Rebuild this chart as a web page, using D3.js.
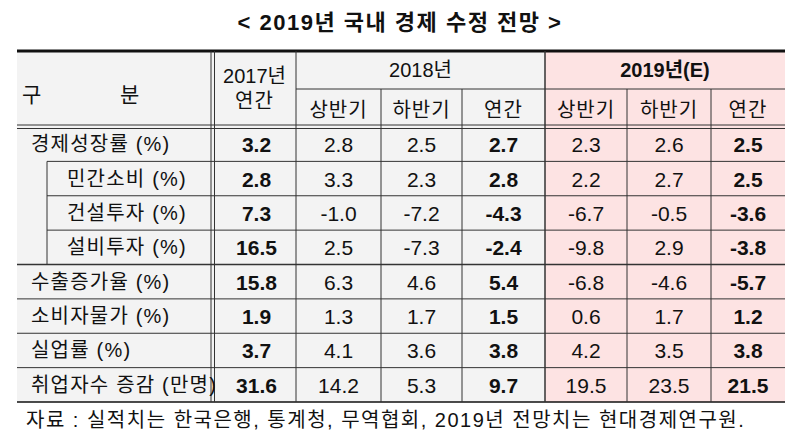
<!DOCTYPE html><html><head><meta charset="utf-8"><script src="https://cdn.jsdelivr.net/npm/d3@7"></script>
<style>body{margin:0;background:#fff}text{font-family:"Liberation Sans","Noto Sans CJK KR",sans-serif;fill:#111}</style></head><body><svg id="c" width="800" height="440"></svg>
<script>
const title="< 2019년 국내 경제 수정 전망 >";
const rowLabels=["경제성장률 (%)","민간소비 (%)","건설투자 (%)","설비투자 (%)","수출증가율 (%)","소비자물가 (%)","실업률 (%)","취업자수 증감 (만명)"];
const subRow=[false,true,true,true,false,false,false,false];
const y2017=[3.2,2.8,7.3,16.5,15.8,1.9,3.7,31.6];
const h1_2018=[2.8,3.3,-1.0,2.5,6.3,1.3,4.1,14.2];
const h2_2018=[2.5,2.3,-7.2,-7.3,4.6,1.7,3.6,5.3];
const y2018=[2.7,2.8,-4.3,-2.4,5.4,1.5,3.8,9.7];
const h1_2019=[2.3,2.2,-6.7,-9.8,-6.8,0.6,4.2,19.5];
const h2_2019=[2.6,2.7,-0.5,2.9,-4.6,1.7,3.5,23.5];
const y2019=[2.5,2.5,-3.6,-3.8,-5.7,1.2,3.8,21.5];
const subHeads=["상반기","하반기","연간","상반기","하반기","연간"];
const note="자료 : 실적치는 한국은행, 통계청, 무역협회, 2019년 전망치는 현대경제연구원.";
const cols=[y2017,h1_2018,h2_2018,y2018,h1_2019,h2_2019,y2019];
const bold=[true,false,false,true,false,false,true];
const edges=[17,213,296,381,462,545,627,711,785];
const svg=d3.select("#c");
const x=i=>edges[i];
const y=d3.scaleBand().domain(d3.range(8)).range([127,402]);
svg.append("rect").attr("x",0).attr("y",0).attr("width",800).attr("height",440).attr("fill","#fff");
svg.append("rect").attr("x",x(0)).attr("y",51).attr("width",x(5)-x(0)).attr("height",351).attr("fill","#f3f3f3");
svg.append("rect").attr("x",x(5)).attr("y",51).attr("width",x(8)-x(5)).attr("height",351).attr("fill","#fde3e3");
svg.append("text").attr("x",400).attr("y",30).attr("text-anchor","middle").attr("font-size",22).attr("letter-spacing",1.5).attr("font-weight",600).text(title);
const L=(x1,y1,x2,y2,w=1,c="#333")=>svg.append("line").attr("x1",x1).attr("y1",y1).attr("x2",x2).attr("y2",y2).attr("stroke",c).attr("stroke-width",w);
L(x(0),51,x(8),51,3,"#111");
L(x(0),402,x(8),402,1.5,"#111");
L(x(0),125,x(8),125,1);L(x(0),128.5,x(8),128.5,1);
L(x(2),89,x(8),89,1);
d3.range(1,8).forEach(i=>{const r=y(i);const x0=subRow[i]?47:x(0);L(x0,r,x(8),r,1);});
L(x(0),y(4),x(8),y(4),1.5);
L(x(1)-2,51,x(1)-2,402,1);L(x(1)+1.5,51,x(1)+1.5,402,1);
L(x(2),51,x(2),402,1);
[3,4,6,7].forEach(i=>L(x(i),89,x(i),402,1));
L(x(5),51,x(5),402,1.5);
L(47,y(1),47,y(4),1);
const F=20;
svg.append("text").attr("x",22).attr("y",115).attr("font-size",21).attr("dy","-0.6em").text("구");
svg.append("text").attr("x",120).attr("y",115).attr("font-size",21).attr("dy","-0.6em").text("분");
svg.append("text").attr("x",(x(1)+x(2))/2).attr("y",83).attr("text-anchor","middle").attr("font-size",F).text("2017년");
svg.append("text").attr("x",(x(1)+x(2))/2).attr("y",108).attr("text-anchor","middle").attr("font-size",F).attr("letter-spacing",1).text("연간");
svg.append("text").attr("x",(x(2)+x(5))/2).attr("y",77).attr("text-anchor","middle").attr("font-size",F).text("2018년");
svg.append("text").attr("x",(x(5)+x(8))/2).attr("y",77).attr("text-anchor","middle").attr("font-size",F).attr("font-weight","bold").text("2019년(E)");
subHeads.forEach((s,i)=>svg.append("text").attr("x",(x(i+2)+x(i+3))/2).attr("y",117).attr("text-anchor","middle").attr("font-size",F).attr("letter-spacing",1).text(s));
rowLabels.forEach((s,i)=>svg.append("text").attr("x",subRow[i]?67:31).attr("y",y(i)+y.bandwidth()/2+7).attr("font-size",F).attr("letter-spacing",1.2).text(s));
cols.forEach((c,j)=>c.forEach((v,i)=>svg.append("text").attr("x",(x(j+1)+x(j+2))/2+(j==0?2:0)).attr("y",y(i)+y.bandwidth()/2+8).attr("text-anchor","middle").attr("font-size",21).attr("font-weight",bold[j]?"bold":"normal").text(v.toFixed(1))));
svg.append("text").attr("x",26).attr("y",427).attr("font-size",20).attr("letter-spacing",1.5).text(note);
</script></body></html>
